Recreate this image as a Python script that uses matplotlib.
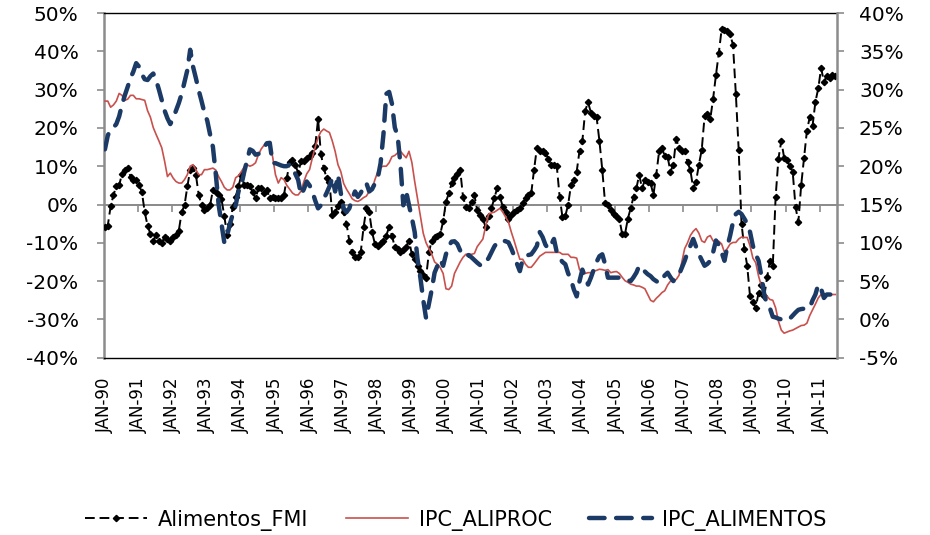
import numpy as np
import matplotlib
matplotlib.use("Agg")
import matplotlib.pyplot as plt
from matplotlib.lines import Line2D

# monthly data, Jan-1990 .. Jun-2011 (annual % change)
# Alimentos_FMI -> left axis
alimentos_fmi = [
    -6.0, -5.5, -0.5, 2.5, 4.7, 5.0, 8.0, 9.0, 9.5, 7.3, 6.4, 6.4,            # 1990
    5.0, 3.3, -2.0, -5.5, -7.7, -9.4, -8.0, -9.5, -10.0, -8.5, -9.0, -9.4,     # 1991
    -8.5, -8.0, -6.8, -2.0, -0.2, 4.7, 9.0, 9.5, 7.8, 2.5, -0.2, -1.5,         # 1992
    -1.0, -0.2, 3.8, 3.3, 2.5, 1.5, -3.0, -8.0, -5.0, -0.6, 2.0, 4.7,          # 1993
    7.8, 5.0, 5.0, 4.7, 3.3, 1.6, 4.2, 4.2, 2.9, 3.8, 1.6, 2.0,                # 1994
    1.6, 1.8, 1.6, 2.5, 6.9, 11.0, 11.7, 10.4, 8.2, 11.3, 11.3, 12.2,          # 1995
    12.6, 13.5, 15.3, 22.3, 13.2, 9.5, 6.9, 6.0, -2.8, -2.0, -0.5, 0.7,        # 1996
    -2.0, -5.0, -9.5, -12.5, -13.8, -13.8, -12.5, -6.0, -1.0, -2.0, -7.2, -10.3,   # 1997
    -10.8, -10.0, -9.4, -8.1, -5.9, -8.1, -11.2, -11.5, -12.5, -12.0, -11.0, -9.4,  # 1998
    -13.0, -14.3, -16.0, -17.4, -18.3, -19.1, -12.5, -9.4, -8.5, -8.1, -7.7, -4.4,  # 1999
    0.7, 2.9, 5.5, 6.9, 8.0, 9.1, 2.0, -0.6, -1.0, 0.7, 2.5, -1.5,             # 2000
    -2.8, -3.7, -6.0, -3.0, -1.0, 1.6, 4.2, 2.0, -0.6, -2.0, -3.7, -2.8,       # 2001
    -2.0, -1.5, -1.0, 0.3, 1.6, 2.5, 2.9, 9.1, 14.8, 13.9, 13.9, 13.5,         # 2002
    12.0, 10.4, 10.2, 10.0, 2.0, -3.3, -3.0, 0.0, 5.1, 6.4, 8.6, 14.0,         # 2003
    16.6, 24.5, 26.7, 24.0, 23.2, 22.8, 16.6, 9.1, 0.3, -0.2, -1.5, -2.4,      # 2004
    -3.0, -3.7, -7.7, -7.7, -3.7, -1.0, 2.0, 4.2, 7.8, 4.2, 6.4, 6.0,          # 2005
    5.6, 2.5, 7.8, 13.9, 14.8, 12.6, 12.4, 8.6, 10.4, 17.1, 14.8, 13.9,        # 2006
    13.9, 11.0, 9.0, 4.2, 6.0, 10.4, 14.3, 23.0, 23.6, 22.3, 27.6, 33.8,       # 2007
    39.5, 45.7, 45.5, 45.2, 44.4, 41.7, 28.9, 14.3, -5.0, -11.5, -16.0, -24.0, # 2008
    -25.5, -27.0, -23.0, -21.0, -24.0, -19.0, -14.7, -16.0, 2.0, 12.0, 16.6, 12.2,  # 2009
    11.5, 10.0, 8.6, -0.6, -4.6, 5.1, 12.2, 19.2, 22.8, 20.6, 26.8, 30.3,      # 2010
    35.6, 32.1, 33.5, 33.0, 33.8, 33.5,                                        # 2011
]

# IPC_ALIPROC -> right axis
ipc_aliproc = [
    28.5, 28.5, 27.7, 28.0, 28.5, 29.5, 29.25, 28.6, 28.75, 29.25, 29.25, 28.8,
    28.8, 28.7, 28.6, 27.25, 26.4, 25.05, 24.15, 23.3, 22.4, 20.65, 18.65, 19.1,
    18.45, 18.0, 17.8, 17.8, 18.25, 18.9, 20.0, 20.2, 19.55, 18.9, 18.9, 19.55,
    19.55, 19.65, 19.75, 19.5, 18.65, 18.0, 17.25, 16.9, 16.9, 17.25, 18.5, 18.75,
    19.3, 19.9, 20.2, 20.0, 20.15, 20.45, 21.5, 22.25, 22.75, 22.85, 22.85, 21.25,
    18.9, 17.8, 18.5, 18.25, 17.5, 17.0, 16.5, 16.25, 16.25, 16.75, 18.0, 19.0,
    19.55, 21.1, 22.5, 23.75, 24.5, 24.85, 24.6, 24.4, 23.3, 21.95, 20.2, 19.3,
    17.75, 17.0, 16.4, 15.75, 15.5, 15.4, 15.6, 15.9, 16.1, 16.7, 17.0, 18.25,
    19.25, 19.9, 20.0, 20.0, 20.45, 21.25, 21.4, 21.75, 21.95, 21.5, 21.1, 21.95,
    20.5, 18.0, 15.75, 13.5, 11.25, 10.0, 9.25, 8.5, 7.5, 7.2, 6.75, 6.0,
    4.0, 3.9, 4.35, 6.0, 6.75, 7.5, 8.1, 8.5, 8.5, 8.5, 8.6, 9.5,
    10.0, 10.5, 12.25, 13.75, 13.9, 14.0, 14.25, 14.5, 14.0, 13.35, 12.7, 11.4,
    10.25, 9.0, 7.85, 7.85, 7.2, 6.8, 6.8, 7.25, 7.75, 8.25, 8.5, 8.75,
    8.75, 8.75, 8.75, 8.75, 8.75, 8.5, 8.5, 8.5, 8.1, 8.1, 8.0, 6.5,
    6.1, 6.0, 6.1, 6.1, 6.3, 6.4, 6.55, 6.5, 6.4, 6.5, 6.1, 6.2,
    6.25, 6.0, 5.5, 5.05, 4.85, 4.6, 4.5, 4.35, 4.35, 4.2, 4.0, 3.25,
    2.5, 2.3, 2.75, 3.1, 3.5, 3.75, 4.5, 5.0, 5.1, 5.2, 5.75, 7.5,
    9.25, 10.0, 10.95, 11.5, 11.85, 11.25, 10.25, 10.05, 10.75, 10.95, 10.25, 10.1,
    10.2, 9.85, 8.75, 9.25, 9.85, 10.05, 10.05, 10.5, 10.75, 10.7, 10.7, 9.6,
    8.0, 7.4, 5.65, 4.35, 3.5, 3.0, 2.6, 2.5, 1.5, -0.25, -1.4, -1.8,
    -1.65, -1.5, -1.4, -1.2, -1.0, -0.8, -0.75, -0.5, 0.5, 1.25, 2.0, 2.8,
    3.25, 3.15, 3.25, 3.25, 3.25, 3.25,
]

# IPC_ALIMENTOS -> right axis
ipc_alimentos = [
    22.2, 24.0, 24.85, 25.05, 25.5, 26.5, 28.0, 29.25, 30.35, 31.5, 32.35, 33.45,
    33.0, 32.0, 31.35, 31.25, 31.75, 32.1, 31.25, 30.0, 28.6, 27.25, 26.25, 25.5,
    26.25, 27.25, 28.25, 29.45, 31.0, 32.55, 35.2, 33.0, 31.5, 29.9, 28.5, 27.0,
    25.95, 24.15, 22.5, 19.0, 15.0, 12.5, 10.05, 10.95, 12.5, 13.75, 14.9, 16.7,
    17.5, 19.25, 20.75, 22.2, 22.0, 21.5, 21.6, 22.0, 22.5, 23.0, 23.05, 20.4,
    20.4, 20.25, 20.1, 20.0, 20.0, 20.25, 19.75, 19.0, 18.2, 16.25, 17.0, 18.0,
    17.5, 16.7, 15.5, 14.5, 14.9, 15.75, 16.5, 17.35, 18.5, 16.7, 18.9, 16.5,
    14.5, 14.0, 14.5, 15.75, 16.7, 16.0, 16.5, 17.25, 17.8, 16.7, 17.0, 17.75,
    18.45, 20.4, 24.15, 29.45, 29.7, 28.15, 25.05, 23.95, 20.2, 14.9, 16.7, 14.9,
    13.25, 11.4, 7.85, 5.45, 2.55, 0.15, 2.0, 3.9, 6.1, 7.0, 7.85, 7.0,
    8.5, 9.6, 10.15, 10.2, 9.85, 9.0, 8.3, 8.25, 8.4, 8.1, 7.75, 7.4,
    7.1, 7.0, 7.5, 8.0, 8.75, 9.5, 10.05, 10.25, 10.3, 10.2, 10.05, 9.25,
    8.3, 7.25, 6.3, 7.85, 8.25, 8.4, 8.5, 9.0, 9.6, 11.4, 10.75, 9.75,
    9.2, 9.75, 10.5, 8.75, 8.0, 7.5, 7.2, 6.0, 5.2, 3.9, 3.0, 5.0,
    6.5, 5.5, 4.55, 5.45, 6.5, 7.5, 8.25, 8.5, 7.2, 5.45, 5.45, 5.45,
    5.45, 5.45, 5.45, 5.25, 5.1, 5.0, 5.5, 6.1, 7.0, 6.55, 6.25, 5.9,
    5.65, 5.25, 5.0, 4.75, 5.25, 5.75, 6.1, 5.5, 5.0, 5.45, 5.85, 6.75,
    7.65, 8.75, 9.6, 10.5, 9.5, 8.5, 7.75, 7.0, 7.25, 7.65, 8.75, 10.3,
    9.75, 8.75, 7.65, 9.5, 10.95, 12.7, 13.75, 14.05, 13.75, 13.15, 12.5, 11.4,
    9.6, 8.5, 7.65, 5.65, 3.25, 1.9, 1.45, 0.35, 0.25, 0.1, 0.0, -0.1,
    -0.1, 0.1, 0.5, 0.9, 1.25, 1.35, 1.4, 1.45, 1.5, 2.5, 3.25, 4.55,
    4.0, 2.8, 3.25, 3.25, 3.25, 3.25,
]

years = ["90", "91", "92", "93", "94", "95", "96", "97", "98", "99", "00",
         "01", "02", "03", "04", "05", "06", "07", "08", "09", "10", "11"]
xlabels = ["JAN-" + y for y in years]

BLACK = "#000000"
RED = "#C8504D"
NAVY = "#1B3A66"
GRAY = "#8C8C8C"

x = np.arange(len(alimentos_fmi))

fig = plt.figure(figsize=(9.3, 5.35), dpi=100)
ax = fig.add_axes([0.1113, 0.3314, 0.7884, 0.6443])
ax2 = ax.twinx()

# zero line (category axis crosses here)
ax.axhline(0, color=GRAY, lw=1.4, zorder=1)

ax.plot(x, alimentos_fmi, color=BLACK, lw=1.4, dashes=(5, 2.5),
        marker="D", markersize=3.2, zorder=3)
ax2.plot(x, ipc_aliproc, color=RED, lw=1.2, zorder=2)
ax2.plot(x, ipc_alimentos, color=NAVY, lw=3.2, dashes=(3.5, 2.6),
         dash_capstyle="round", zorder=2)

ax.set_xlim(-0.5, len(x) - 0.5)
ax.set_ylim(-40, 50)
ax.set_yticks(np.arange(-40, 51, 10))
ax.set_yticklabels([f"{v}%" for v in range(-40, 51, 10)])
ax2.set_ylim(-5, 40)
ax2.set_yticks(np.arange(-5, 41, 5))
ax2.set_yticklabels([f"{v}%" for v in range(-5, 41, 5)])

ax.tick_params(axis="y", labelsize=14.5, length=5, width=1.2, color=GRAY, pad=13)
ax2.tick_params(axis="y", labelsize=14.5, length=5, width=1.2, color=GRAY, pad=11)

# x labels at the bottom, tick marks on the zero line
ax.set_xticks(np.arange(0, len(x), 12))
ax.set_xticklabels(xlabels, rotation=90, fontsize=12)
ax.tick_params(axis="x", length=0, pad=14)

sec = ax.secondary_xaxis(4 / 9)
sec.set_xticks(np.arange(11.5, len(x), 12))
sec.set_xticklabels([])
sec.tick_params(axis="x", direction="out", length=5, width=1.2, color=GRAY)
for s in sec.spines.values():
    s.set_color(GRAY)
    s.set_linewidth(1.4)

for s in ("top", "bottom"):
    ax.spines[s].set_color(BLACK)
    ax.spines[s].set_linewidth(1.0)
    ax2.spines[s].set_visible(False)
ax.spines["left"].set_color(GRAY)
ax.spines["left"].set_linewidth(1.8)
ax2.spines["right"].set_color(GRAY)
ax2.spines["right"].set_linewidth(1.8)
ax2.spines["left"].set_visible(False)
ax.spines["right"].set_visible(False)

handles = [
    Line2D([], [], color=BLACK, lw=1.4, dashes=(5, 2.5), marker="D", markersize=3.2),
    Line2D([], [], color=RED, lw=1.2),
    Line2D([], [], color=NAVY, lw=3.2, dashes=(3.5, 2.6), dash_capstyle="round"),
]
fig.legend(handles, ["Alimentos_FMI", "IPC_ALIPROC", "IPC_ALIMENTOS"],
           loc="center", bbox_to_anchor=(0.49, 0.028), ncol=3, frameon=False,
           fontsize=15, handlelength=3.0, columnspacing=1.8, handletextpad=0.5)

fig.savefig("out.png", dpi=100)
